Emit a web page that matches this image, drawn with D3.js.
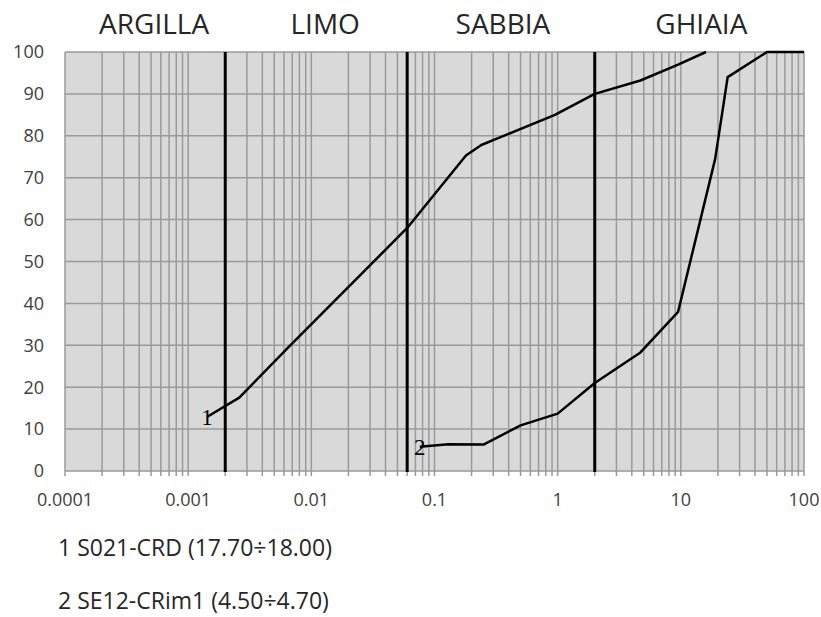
<!DOCTYPE html>
<html>
<head>
<meta charset="utf-8">
<title>Curve granulometriche</title>
<script src="https://cdn.jsdelivr.net/npm/d3@7"></script>
<style>
	body { margin: 0; background: #fff; }
	text { font-family: "Open Sans", sans-serif; }
</style>
</head>
<body>
<div class="chart"></div>
<script>
// zone separators (mm) and names
const zoneBounds = [0.002, 0.06, 2];
const zoneNames = ["ARGILLA", "LIMO", "SABBIA", "GHIAIA"];

// x ticks (log) and y ticks
const xTicks = [0.0001, 0.001, 0.01, 0.1, 1, 10, 100];
const yTicks = [0, 10, 20, 30, 40, 50, 60, 70, 80, 90, 100];

// curve 1 - diameter / passing %
const d1 = [0.00142, 0.0026, 0.0065, 0.06, 0.18, 0.24, 0.95, 2, 4.7, 9.5, 16];
const p1 = [12.9, 17.5, 29.5, 58, 75.3, 77.8, 85, 90, 93.2, 97, 100];

// curve 2
const d2 = [0.076, 0.13, 0.25, 0.5, 1, 2, 4.7, 9.5, 19, 24, 50, 100];
const p2 = [5.8, 6.4, 6.3, 10.9, 13.7, 21, 28.3, 38, 74.5, 94, 100, 100];

const curveIds = ["1", "2"];
const legendLabels = ["1 S021-CRD (17.70÷18.00)", "2 SE12-CRim1 (4.50÷4.70)"];

const width = 821;
const height = 617;
const margin = ({top: 52, right: 17, bottom: 146, left: 65});

const svg = d3.select(".chart").append("svg")
	.attr("width", width)
	.attr("height", height);

var x = d3.scaleLog().domain([0.0001, 100]).range([margin.left, width - margin.right]);
var y = d3.scaleLinear().domain([0, 100]).range([height - margin.bottom, margin.top]);

// plot background
svg.append("rect")
	.attr("x", x.range()[0])
	.attr("y", y(100))
	.attr("width", x.range()[1] - x.range()[0])
	.attr("height", y(0) - y(100))
	.attr("fill", "#d9d9d9");

// vertical grid: decades + minor 2..9
var vgrid = [];
for (var e = -4; e < 2; e++){
	for (var k = 1; k < 10; k++) vgrid.push(k * Math.pow(10, e));
}
vgrid.push(100);

svg.append("g").selectAll("line")
	.data(vgrid)
	.enter().append("line")
		.attr("x1", d => x(d)).attr("x2", d => x(d))
		.attr("y1", y(100)).attr("y2", y(0) + 5)
		.attr("stroke", "#9a9a9a")
		.attr("stroke-width", 1.5);

svg.append("g").selectAll("line")
	.data(yTicks)
	.enter().append("line")
		.attr("x1", x.range()[0]).attr("x2", x.range()[1])
		.attr("y1", d => y(d)).attr("y2", d => y(d))
		.attr("stroke", "#9a9a9a")
		.attr("stroke-width", 1.5);

// y labels
svg.append("g").selectAll("text")
	.data(yTicks)
	.enter().append("text")
		.attr("x", margin.left - 21)
		.attr("y", d => y(d))
		.attr("dy", "0.35em")
		.attr("text-anchor", "end")
		.attr("font-size", 18)
		.attr("fill", "#404040")
		.text(d => d);

// x labels
svg.append("g").selectAll("text")
	.data(xTicks)
	.enter().append("text")
		.attr("x", d => x(d))
		.attr("y", y(0) + 29)
		.attr("dy", "0.35em")
		.attr("text-anchor", "middle")
		.attr("font-size", 18)
		.attr("fill", "#404040")
		.text(d => d3.format("")(d));

// zone separators
svg.append("g").selectAll("line")
	.data(zoneBounds)
	.enter().append("line")
		.attr("x1", d => x(d)).attr("x2", d => x(d))
		.attr("y1", y(100)).attr("y2", y(0) + 1)
		.attr("stroke", "#000")
		.attr("stroke-width", 3);

// zone titles, roughly centred between separators
var edges = [x.domain()[0]].concat(zoneBounds, [x.domain()[1]]);
var nudge = [9, 9, 2, 2];
svg.append("g").selectAll("text")
	.data(zoneNames)
	.enter().append("text")
		.attr("x", (d, i) => (x(edges[i]) + x(edges[i + 1])) / 2 + nudge[i])
		.attr("y", 34)
		.attr("text-anchor", "middle")
		.attr("font-size", 28)
		.attr("fill", "#262626")
		.text(d => d);

// curves
var line = d3.line()
	.x(d => x(d[0]))
	.y(d => y(d[1]));

var curves = [d3.zip(d1, p1), d3.zip(d2, p2)];

svg.append("g").selectAll("path")
	.data(curves)
	.enter().append("path")
		.attr("d", line)
		.attr("fill", "none")
		.attr("stroke", "#000")
		.attr("stroke-width", 2.5)
		.attr("stroke-linejoin", "round");

// curve number on first point
svg.append("g").selectAll("text")
	.data(curves)
	.enter().append("text")
		.attr("x", d => x(d[0][0]))
		.attr("y", d => y(d[0][1]))
		.attr("dy", "0.35em")
		.attr("text-anchor", "middle")
		.style("font-family", "'Liberation Serif', serif")
		.attr("font-size", 23)
		.attr("fill", "#000")
		.text((d, i) => curveIds[i]);

// legend below
svg.append("g").selectAll("text")
	.data(legendLabels)
	.enter().append("text")
		.attr("x", 58)
		.attr("y", (d, i) => 556 + i * 53)
		.attr("font-size", 23)
		.attr("fill", "#262626")
		.text(d => d);
</script>
</body>
</html>
